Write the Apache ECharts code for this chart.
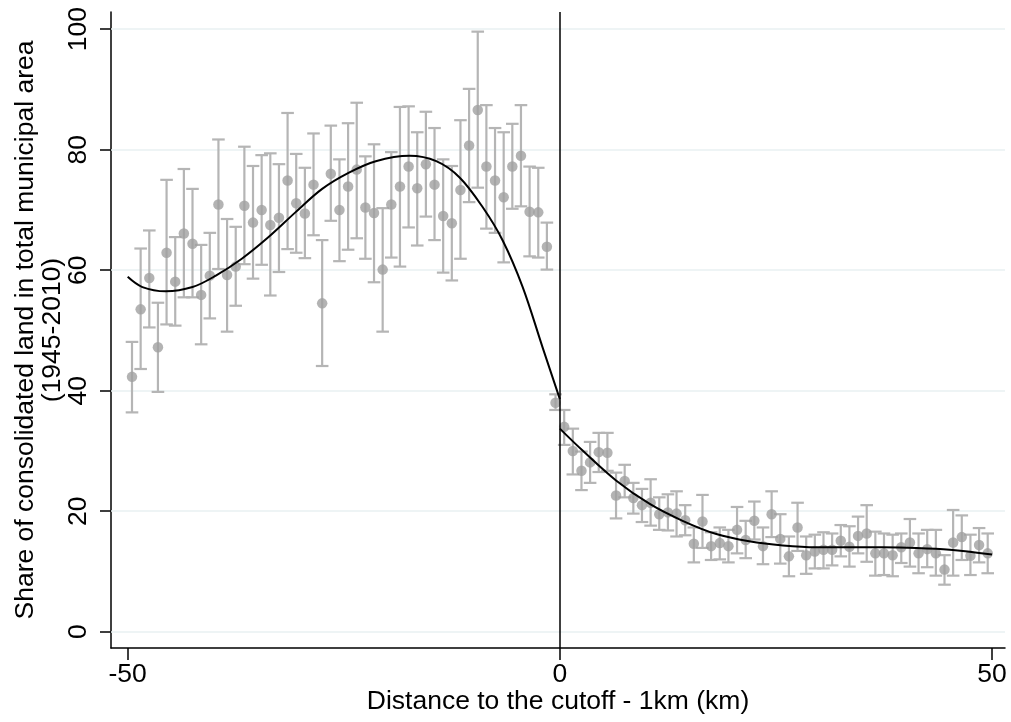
<!DOCTYPE html>
<html>
<head>
<meta charset="utf-8">
<script src="https://cdn.jsdelivr.net/npm/echarts@6/dist/echarts.min.js"></script>
<style>
html,body{margin:0;padding:0;background:#fff;}
#chart{width:1011px;height:722px;}
</style>
</head>
<body>
<div id="chart"></div>
<script>
// ---- data ----
const binX = [];
for (let i = 0; i < 100; i++) binX.push(-49.5 + i);

const meanVals = [
  42.3, 53.5, 58.7, 47.2, 62.9, 58.1, 66.1, 64.4, 55.9, 59.1,
  70.9, 59.2, 60.6, 70.7, 67.9, 70.0, 67.5, 68.7, 74.9, 71.1,
  69.4, 74.2, 54.5, 76.0, 70.0, 73.9, 76.7, 70.4, 69.5, 60.1,
  70.9, 73.9, 77.2, 73.6, 77.6, 74.2, 69.0, 67.8, 73.3, 80.7,
  86.6, 77.2, 74.9, 72.1, 77.2, 79.0, 69.7, 69.6, 63.9, 38.0,
  34.0, 30.0, 26.7, 28.1, 29.8, 29.7, 22.6, 25.0, 22.2, 21.0,
  21.4, 19.5, 19.8, 19.6, 18.5, 14.6, 18.3, 14.2, 14.7, 14.2,
  16.9, 15.2, 18.4, 14.2, 19.5, 15.4, 12.5, 17.3, 12.7, 13.3,
  13.6, 13.6, 15.1, 14.1, 15.9, 16.3, 13.0, 13.0, 12.7, 14.0,
  14.8, 13.0, 13.7, 13.0, 10.3, 14.8, 15.7, 12.6, 14.4, 13.0
];
const lowVals = [
  36.4, 43.6, 50.5, 39.8, 51.0, 50.8, 55.5, 55.5, 47.7, 52.0,
  60.2, 49.8, 54.1, 61.0, 58.6, 60.9, 55.8, 59.7, 63.5, 62.9,
  62.0, 65.8, 44.1, 68.2, 61.5, 63.4, 65.3, 61.9, 58.0, 49.8,
  62.1, 60.6, 67.1, 64.1, 68.9, 65.0, 59.6, 58.3, 61.9, 71.3,
  73.7, 66.9, 66.2, 61.3, 70.2, 70.6, 62.3, 62.1, 60.1, 36.8,
  31.0, 26.1, 23.5, 24.7, 26.5, 26.7, 18.8, 22.3, 19.6, 18.2,
  17.6, 16.9, 16.8, 15.8, 16.0, 11.5, 13.9, 11.9, 12.0, 11.5,
  13.0, 12.2, 15.3, 11.2, 15.7, 11.3, 9.2, 13.4, 9.6, 10.5,
  10.5, 11.0, 12.5, 10.8, 13.0, 11.6, 9.3, 9.4, 9.2, 11.4,
  10.8, 9.7, 10.7, 9.3, 7.8, 9.3, 11.9, 9.4, 11.5, 9.7
];
const highVals = [
  48.1, 63.6, 66.6, 54.6, 75.0, 65.5, 76.8, 73.5, 64.2, 66.2,
  81.7, 68.5, 67.2, 80.5, 77.3, 79.1, 79.4, 77.6, 86.1, 79.3,
  77.0, 82.7, 65.0, 84.0, 78.4, 84.4, 87.8, 78.9, 80.9, 70.3,
  79.6, 87.1, 87.2, 82.9, 86.3, 83.6, 78.4, 77.3, 84.9, 90.1,
  99.6, 87.4, 83.6, 82.9, 84.3, 87.4, 77.2, 77.0, 67.9, 39.4,
  36.8, 33.7, 29.9, 31.5, 33.0, 33.0, 26.4, 27.7, 24.7, 23.7,
  25.3, 22.3, 22.8, 23.3, 21.0, 17.3, 22.7, 16.5, 17.3, 16.9,
  20.7, 18.4, 21.6, 17.3, 23.3, 19.5, 15.8, 21.4, 15.8, 16.1,
  16.5, 16.3, 17.7, 17.5, 19.1, 21.0, 16.6, 16.3, 16.1, 16.3,
  18.7, 16.3, 16.9, 16.9, 12.7, 20.2, 19.3, 16.1, 17.2, 16.3
];

// fitted curves
const leftFitX = [-50, -48.3, -45.6, -42.5, -39.8, -36.8, -33.7, -30.6, -27.5, -24.4, -21.3, -17.4, -14.3, -11.6, -8.9, -6.6, -4.3, -2.0, 0];
const leftFitY = [58.9, 57.2, 56.5, 57.2, 59.1, 61.9, 65.5, 69.6, 73.5, 76.2, 78.1, 79.0, 78.1, 75.4, 70.4, 64.9, 57.2, 47.2, 38.6];
const rightFitX = [0, 2.6, 6.5, 10.4, 14.2, 18.1, 21.9, 25.8, 29.7, 33.5, 37.4, 41.2, 45.1, 50];
const rightFitY = [33.7, 30.1, 25.1, 21.2, 18.4, 16.2, 15.0, 14.3, 14.0, 14.0, 14.0, 13.9, 13.6, 12.8];

const xTicks = [-50, 0, 50];
const yTicks = [0, 20, 40, 60, 80, 100];
const cutoff = 0;

const xTitle = 'Distance to the cutoff - 1km (km)';
const yTitle = 'Share of consolidated land in total municipal area\n(1945-2010)';

// ---- build ----
const pointData = binX.map((x, i) => [x, meanVals[i]]);
const ciData = binX.map((x, i) => [x, lowVals[i], highVals[i]]);
const leftFit = leftFitX.map((x, i) => [x, leftFitY[i]]);
const rightFit = rightFitX.map((x, i) => [x, rightFitY[i]]);

const FONT = '"Liberation Sans", Arial, Helvetica, sans-serif';
const chart = echarts.init(document.getElementById('chart'), null, {renderer: 'canvas'});

const option = {
  animation: false,
  backgroundColor: '#ffffff',
  grid: {left: 111, right: 6, top: 12, bottom: 74, containLabel: false, outerBoundsMode: 'none'},
  xAxis: {
    type: 'value',
    min: -51.93, max: 51.5,
    axisLine: {show: true, onZero: false, lineStyle: {color: '#000', width: 1.5}},
    axisTick: {show: true, customValues: xTicks, length: 12, lineStyle: {color: '#000', width: 1.5}},
    axisLabel: {show: true, customValues: xTicks, color: '#000', fontSize: 26.5, fontFamily: FONT, margin: 13},
    splitLine: {show: false},
    name: xTitle,
    nameLocation: 'middle',
    nameGap: 40,
    nameMoveOverlap: false,
    nameTextStyle: {color: '#000', fontSize: 26.5, fontFamily: FONT}
  },
  yAxis: {
    type: 'value',
    min: -2.71, max: 102.86,
    axisLine: {show: true, onZero: false, lineStyle: {color: '#000', width: 1.5}},
    axisTick: {show: true, customValues: yTicks, length: 11, lineStyle: {color: '#000', width: 1.5}},
    axisLabel: {show: true, customValues: yTicks, rotate: 90, color: '#000', fontSize: 26.5, fontFamily: FONT, margin: 19},
    splitLine: {show: false},
    name: yTitle,
    nameLocation: 'middle',
    nameRotate: 90,
    nameGap: 45,
    nameMoveOverlap: false,
    nameTextStyle: {color: '#000', fontSize: 26.5, fontFamily: FONT, lineHeight: 27, align: 'center'}
  },
  series: [
    {
      name: 'gridlines',
      type: 'line',
      data: [],
      z: 1,
      silent: true,
      markLine: {
        z: 1,
        silent: true,
        symbol: ['none', 'none'],
        label: {show: false},
        lineStyle: {color: '#e8f0f2', width: 1.5, type: 'solid'},
        data: yTicks.map(v => ({yAxis: v}))
      }
    },
    {
      name: 'ci',
      type: 'custom',
      z: 2,
      silent: true,
      data: ciData,
      renderItem: function (params, api) {
        const x = api.value(0), lo = api.value(1), hi = api.value(2);
        const pLo = api.coord([x, lo]);
        const pHi = api.coord([x, hi]);
        const hw = 6.3;
        const st = {stroke: '#b5b5b5', lineWidth: 2.2, fill: null};
        return {
          type: 'group',
          children: [
            {type: 'line', shape: {x1: pLo[0], y1: pLo[1], x2: pHi[0], y2: pHi[1]}, style: st},
            {type: 'line', shape: {x1: pHi[0] - hw, y1: pHi[1], x2: pHi[0] + hw, y2: pHi[1]}, style: st},
            {type: 'line', shape: {x1: pLo[0] - hw, y1: pLo[1], x2: pLo[0] + hw, y2: pLo[1]}, style: st}
          ]
        };
      }
    },
    {
      name: 'means',
      type: 'scatter',
      z: 3,
      data: pointData,
      symbol: 'circle',
      symbolSize: 10.5,
      itemStyle: {color: '#a0a0a0'}
    },
    {
      name: 'fitLeft',
      type: 'line',
      z: 4,
      data: leftFit,
      smooth: 0.35,
      showSymbol: false,
      symbol: 'none',
      lineStyle: {color: '#000', width: 2}
    },
    {
      name: 'fitRight',
      type: 'line',
      z: 4,
      data: rightFit,
      smooth: 0.35,
      showSymbol: false,
      symbol: 'none',
      lineStyle: {color: '#000', width: 2},
      markLine: {
        z: 5,
        silent: true,
        symbol: ['none', 'none'],
        label: {show: false},
        lineStyle: {color: '#000', width: 1.5, type: 'solid'},
        data: [{xAxis: cutoff}]
      }
    }
  ]
};
chart.setOption(option);
</script>
</body>
</html>
